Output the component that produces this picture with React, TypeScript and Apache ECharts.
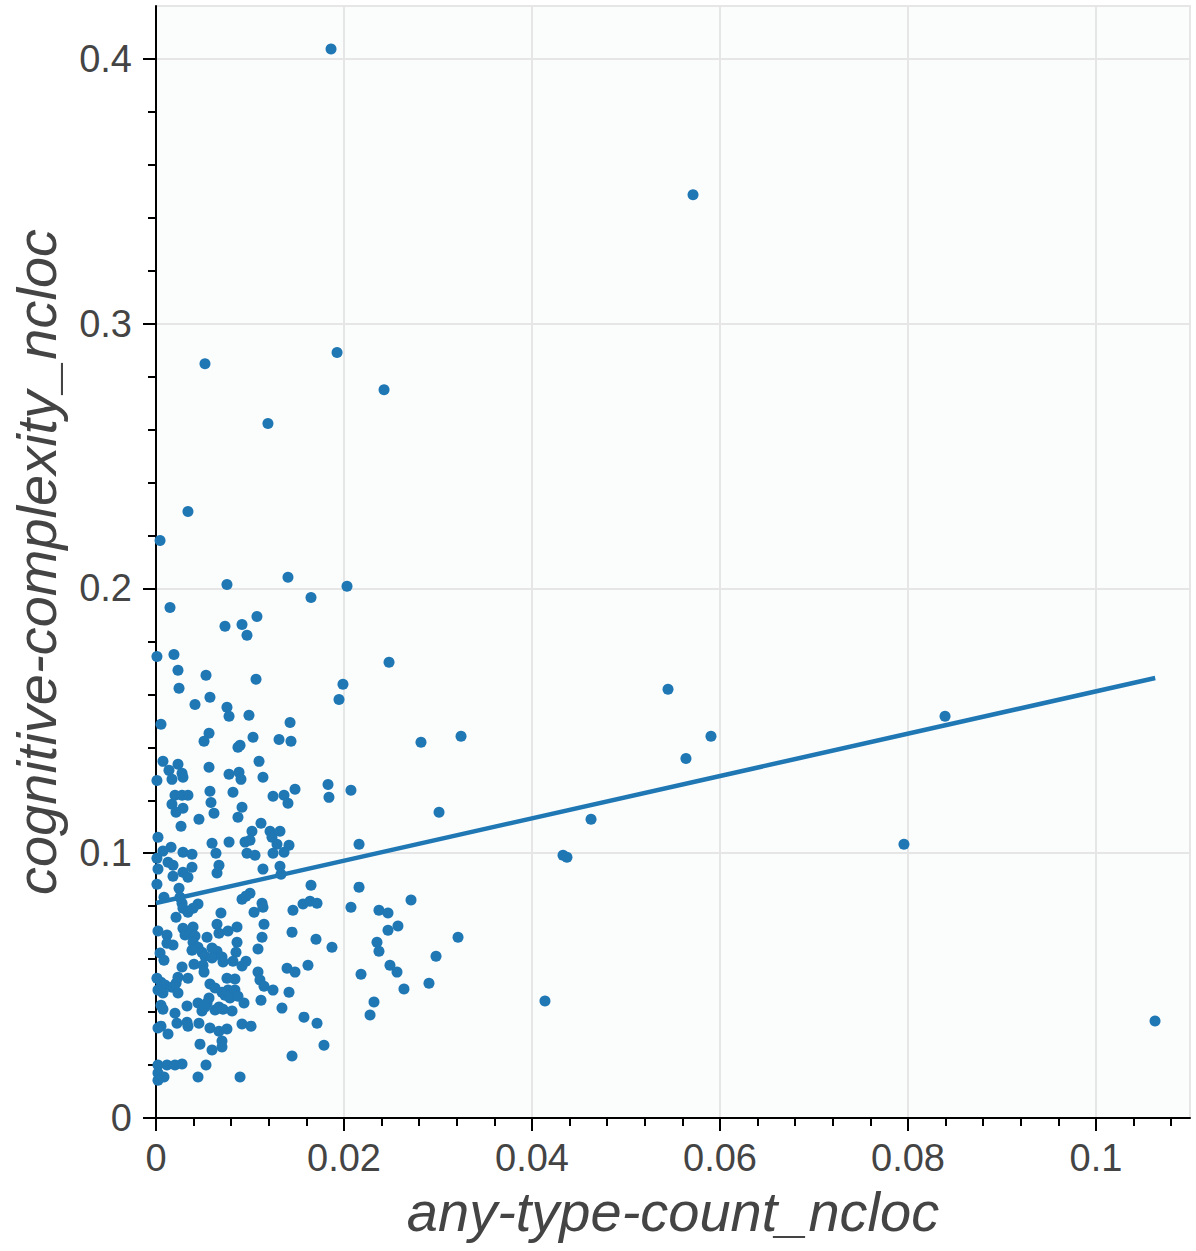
import React, { useEffect, useRef } from "react";
import * as echarts from "echarts";

// tick values
const xMajorTicks = [0, 0.02, 0.04, 0.06, 0.08, 0.1];
const xMinorTicks = [0.004, 0.008, 0.012, 0.016, 0.024, 0.028, 0.032, 0.036, 0.044, 0.048, 0.052, 0.056, 0.064, 0.068, 0.072, 0.076, 0.084, 0.088, 0.092, 0.096, 0.104, 0.108];
const yMajorTicks = [0, 0.1, 0.2, 0.3, 0.4];
const yMinorTicks = [0.02, 0.04, 0.06, 0.08, 0.12, 0.14, 0.16, 0.18, 0.22, 0.24, 0.26, 0.28, 0.32, 0.34, 0.36, 0.38];

// [any-type-count_ncloc, cognitive-complexity_ncloc]
const bandHigh = [
  [0.01862, 0.4038], [0.05713, 0.3487], [0.01926, 0.2891], [0.00521, 0.2849], [0.02426, 0.2751], [0.01191, 0.2623],
  [0.0034, 0.2291], [0.00043, 0.2181], [0.00149, 0.1928], [0.00755, 0.2015], [0.01404, 0.2042], [0.02032, 0.2008],
  [0.01649, 0.1966], [0.01074, 0.1894], [0.00734, 0.1857], [0.00915, 0.1864], [0.00968, 0.1823], [0.0001, 0.1743],
  [0.00191, 0.1751], [0.00234, 0.1691], [0.00532, 0.1672], [0.02479, 0.1721], [0.00245, 0.1623], [0.01064, 0.1657],
  [0.01989, 0.1638], [0.01947, 0.1581], [0.00574, 0.1589], [0.05447, 0.1619], [0.00415, 0.1562], [0.00755, 0.1551],
  [0.00777, 0.1517], [0.00989, 0.1521], [0.00053, 0.1487], [0.01426, 0.1494], [0.08394, 0.1517], [0.00564, 0.1453],
  [0.00511, 0.1423], [0.00894, 0.1408], [0.00872, 0.14], [0.01032, 0.1438], [0.01309, 0.143], [0.01436, 0.1423],
  [0.02819, 0.1419], [0.03245, 0.1442], [0.05904, 0.1442], [0.05638, 0.1358],
];

const bandUpper = [
  [0.00074, 0.1347], [0.00234, 0.1336], [0.00138, 0.1313], [0.00277, 0.1302], [0.00287, 0.1287], [0.0017, 0.1279],
  [0.0001, 0.1275], [0.00564, 0.1325], [0.01096, 0.1347], [0.00777, 0.1298], [0.00883, 0.1306], [0.00904, 0.1279],
  [0.01138, 0.1287], [0.01479, 0.1242], [0.00574, 0.1234], [0.00819, 0.123], [0.00202, 0.1219], [0.00277, 0.1219],
  [0.0034, 0.1219], [0.01245, 0.1215], [0.01362, 0.1219], [0.01404, 0.1189], [0.0017, 0.1185], [0.00585, 0.1192],
  [0.00287, 0.117], [0.00213, 0.1155], [0.00915, 0.1174], [0.00617, 0.1151], [0.00872, 0.1136], [0.00457, 0.1128],
  [0.01117, 0.1113], [0.00266, 0.1102], [0.01021, 0.1083], [0.01213, 0.1083], [0.01319, 0.1083], [0.00021, 0.106],
  [0.01234, 0.106], [0.00777, 0.1042], [0.00596, 0.1038], [0.00947, 0.1042], [0.01, 0.1049], [0.01287, 0.1034],
  [0.01415, 0.103], [0.0016, 0.1023], [0.00074, 0.1008], [0.00287, 0.1004], [0.00383, 0.0996], [0.00638, 0.1],
  [0.00968, 0.1], [0.01053, 0.0992], [0.01245, 0.1], [0.01362, 0.1004],
];

const bandMid = [
  [0.0001, 0.0981], [0.00128, 0.0966], [0.00181, 0.0955], [0.00383, 0.0947], [0.0067, 0.0955], [0.00287, 0.0928],
  [0.00021, 0.094], [0.01138, 0.094], [0.01319, 0.0951], [0.0133, 0.0921], [0.00181, 0.0913], [0.0034, 0.0909],
  [0.00649, 0.0925], [0.0001, 0.0883], [0.00245, 0.0868], [0.01649, 0.0879], [0.00085, 0.0834], [0.00255, 0.0834],
  [0.01, 0.0849], [0.00915, 0.0826], [0.00957, 0.0838], [0.00277, 0.0811], [0.00447, 0.0808], [0.00394, 0.0792],
  [0.00287, 0.0792], [0.01128, 0.0811], [0.01138, 0.0796], [0.01564, 0.0808], [0.01638, 0.0819], [0.01713, 0.0811],
  [0.01457, 0.0785], [0.0034, 0.0777], [0.00691, 0.0774], [0.01043, 0.0777], [0.00213, 0.0758],
];

const bandLow = [
  [0.00021, 0.0706], [0.00117, 0.0691], [0.00287, 0.0717], [0.00394, 0.0721], [0.00309, 0.0691], [0.00362, 0.0694],
  [0.00415, 0.0687], [0.00649, 0.0732], [0.0067, 0.0698], [0.00766, 0.0706], [0.00862, 0.0721], [0.01149, 0.0732],
  [0.01447, 0.0702], [0.01702, 0.0675], [0.01128, 0.0683], [0.00181, 0.0653], [0.00117, 0.066], [0.00043, 0.0623],
  [0.00085, 0.0596], [0.00394, 0.0664], [0.00447, 0.0645], [0.00383, 0.0634], [0.00489, 0.0626], [0.00543, 0.0683],
  [0.00596, 0.0642], [0.00649, 0.063], [0.00521, 0.0611], [0.00596, 0.0604], [0.00862, 0.0664], [0.00851, 0.0626],
  [0.01085, 0.0638], [0.00702, 0.0608], [0.00713, 0.0589], [0.00819, 0.0592], [0.00957, 0.0592], [0.00915, 0.0574],
  [0.00404, 0.0581], [0.005, 0.0577], [0.00277, 0.057], [0.00511, 0.0551], [0.01394, 0.0566], [0.01479, 0.0551],
  [0.01617, 0.0577], [0.01085, 0.0551], [0.0001, 0.0528], [0.00053, 0.0513], [0.00096, 0.0502], [0.0017, 0.0494],
  [0.00213, 0.0509], [0.00234, 0.0532], [0.0034, 0.0528], [0.00574, 0.0506], [0.00628, 0.0491], [0.00755, 0.0528],
  [0.0084, 0.0525], [0.01106, 0.0521], [0.01149, 0.0498], [0.01245, 0.0483], [0.01415, 0.0475], [0.00021, 0.0483],
  [0.00074, 0.0472], [0.00234, 0.0472], [0.00702, 0.0475], [0.00766, 0.0483], [0.0084, 0.0483], [0.00734, 0.0464],
  [0.00787, 0.0453], [0.00872, 0.046], [0.01117, 0.0445], [0.00564, 0.0453],
];

const bandBottom = [
  [0.00936, 0.0434], [0.00447, 0.0434], [0.00543, 0.0434], [0.0033, 0.0423], [0.00053, 0.0426], [0.00074, 0.0411],
  [0.00489, 0.0404], [0.00521, 0.0419], [0.00628, 0.0408], [0.0067, 0.0419], [0.00713, 0.0411], [0.00809, 0.0404],
  [0.0134, 0.0415], [0.01574, 0.0381], [0.00202, 0.0396], [0.00223, 0.0358], [0.0033, 0.0362], [0.0034, 0.0347],
  [0.00457, 0.0358], [0.00053, 0.0347], [0.00021, 0.034], [0.00128, 0.0317], [0.00574, 0.034], [0.0067, 0.0328],
  [0.00755, 0.0336], [0.00915, 0.0355], [0.01011, 0.0347], [0.01713, 0.0358], [0.00702, 0.0291], [0.00702, 0.0268],
  [0.00468, 0.0279], [0.00596, 0.0257], [0.01447, 0.0234], [0.00021, 0.02], [0.00117, 0.02], [0.00202, 0.02],
  [0.00277, 0.0204], [0.00021, 0.017], [0.00085, 0.0155], [0.00532, 0.02], [0.00447, 0.0155], [0.00894, 0.0155],
  [0.00021, 0.0143],
];

const bandRight = [
  [0.0183, 0.126], [0.0184, 0.1211], [0.02074, 0.1238], [0.03011, 0.1155], [0.0216, 0.1034], [0.0216, 0.0872],
  [0.02074, 0.0796], [0.02713, 0.0823], [0.02372, 0.0785], [0.02468, 0.0774], [0.02574, 0.0725], [0.02468, 0.0709],
  [0.01872, 0.0645], [0.02351, 0.0664], [0.02372, 0.063], [0.03213, 0.0683], [0.02979, 0.0611], [0.02489, 0.0577],
  [0.02564, 0.0551], [0.02181, 0.0543], [0.02638, 0.0487], [0.02904, 0.0509], [0.02319, 0.0438], [0.02277, 0.0389],
  [0.01787, 0.0275], [0.0433, 0.0992], [0.04372, 0.0985], [0.04628, 0.1128], [0.04138, 0.0442], [0.07957, 0.1034],
  [0.10628, 0.0366],
];

// regression line end points
const fitX = [0, 0.1063];
const fitY = [0.0812, 0.1662];

const FONT = "'Liberation Sans', Arial, Helvetica, sans-serif";
const BLUE = "#1f77b4";
const TEXT = "#444444";
const GRIDC = "#e6e6e6";

const isMajor = (ticks: number[], v: number) => ticks.some((t) => Math.abs(t - v) < 1e-9);

export default function App() {
  const ref = useRef<HTMLDivElement>(null);

  useEffect(() => {
    if (!ref.current) return;
    const chart = echarts.init(ref.current, undefined, { renderer: "svg" });
    const points = [...bandHigh, ...bandUpper, ...bandMid, ...bandLow, ...bandBottom, ...bandRight];
    const fitData = fitX.map((x, i) => [x, fitY[i]]);

    const axisLineStyle = { color: "#000", width: 2 };

    chart.setOption({
      animation: false,
      backgroundColor: "#ffffff",
      grid: {
        left: 156,
        top: 6,
        width: 1034,
        height: 1112,
        show: true,
        backgroundColor: "#fbfdfd",
        borderColor: GRIDC,
        borderWidth: 2,
      },
      xAxis: [
        {
          type: "value",
          min: 0,
          max: 0.11,
          interval: 0.02,
          position: "bottom",
          name: "any-type-count_ncloc",
          nameLocation: "middle",
          nameGap: 65,
          nameTextStyle: { fontFamily: FONT, fontStyle: "italic", fontSize: 56, color: TEXT, verticalAlign: "top" },
          axisLine: { show: true, onZero: false, lineStyle: axisLineStyle },
          axisTick: { show: true, length: 13, lineStyle: axisLineStyle, customValues: xMajorTicks },
          axisLabel: {
            customValues: xMajorTicks,
            margin: 21,
            fontSize: 38,
            color: TEXT,
            fontFamily: FONT,
            formatter: (v: number) => (isMajor(xMajorTicks, v) ? String(+v.toFixed(4)) : ""),
          },
          splitLine: { show: true, lineStyle: { color: GRIDC, width: 2 } },
          minorTick: { show: false },
        },
        {
          type: "value",
          min: 0,
          max: 0.11,
          interval: 0.004,
          position: "bottom",
          axisLine: { show: false, onZero: false },
          axisTick: { show: true, length: 8, lineStyle: axisLineStyle, customValues: xMinorTicks },
          axisLabel: { show: false },
          splitLine: { show: false },
        },
      ],
      yAxis: [
        {
          type: "value",
          min: 0,
          max: 0.42,
          interval: 0.1,
          position: "left",
          name: "cognitive-complexity_ncloc",
          nameLocation: "middle",
          nameGap: 92,
          nameRotate: 90,
          nameTextStyle: { fontFamily: FONT, fontStyle: "italic", fontSize: 56, color: TEXT },
          axisLine: { show: true, onZero: false, lineStyle: axisLineStyle },
          axisTick: { show: true, length: 13, lineStyle: axisLineStyle, customValues: yMajorTicks },
          axisLabel: {
            customValues: yMajorTicks,
            margin: 24,
            fontSize: 38,
            color: TEXT,
            fontFamily: FONT,
            formatter: (v: number) => (isMajor(yMajorTicks, v) ? String(+v.toFixed(4)) : ""),
          },
          splitLine: { show: true, lineStyle: { color: GRIDC, width: 2 } },
          minorTick: { show: false },
        },
        {
          type: "value",
          min: 0,
          max: 0.42,
          interval: 0.02,
          position: "left",
          axisLine: { show: false, onZero: false },
          axisTick: { show: true, length: 8, lineStyle: axisLineStyle, customValues: yMinorTicks },
          axisLabel: { show: false },
          splitLine: { show: false },
        },
      ],
      series: [
        {
          type: "scatter",
          xAxisIndex: 0,
          yAxisIndex: 0,
          data: points,
          symbol: "circle",
          symbolSize: 11,
          itemStyle: { color: BLUE, opacity: 1 },
          z: 2,
        },
        {
          type: "line",
          xAxisIndex: 0,
          yAxisIndex: 0,
          data: fitData,
          showSymbol: false,
          symbol: "none",
          lineStyle: { color: BLUE, width: 4.5 },
          z: 3,
        },
      ],
    });

    return () => chart.dispose();
  }, []);

  return <div ref={ref} style={{ position: "absolute", left: 0, top: 0, width: 1196, height: 1251 }} />;
}
